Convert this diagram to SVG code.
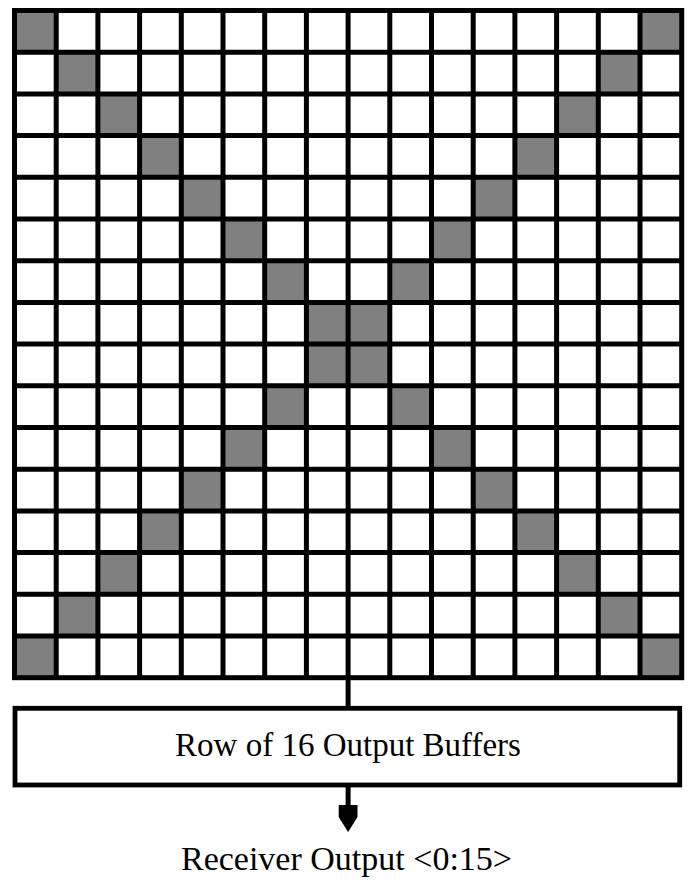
<svg xmlns="http://www.w3.org/2000/svg" width="688" height="882" viewBox="0 0 688 882">
<style>
.g{fill:#808080;stroke:none}
.ln{fill:none;stroke:#000;stroke-width:5}
.box{fill:#fff;stroke:#000;stroke-width:4.8}
.t{font-family:"Liberation Serif","Times New Roman",serif;font-size:33px;fill:#000;text-anchor:middle}
.t2{font-size:34px}
</style>
<defs>
<rect id="c" class="g" width="41.7" height="41.7"/>
</defs>
<rect width="688" height="882" fill="#fff"/>
<g id="grid">
<rect x="14.5" y="10.5" width="667.2" height="667.2" fill="#fff"/>
<use href="#c" x="14.5" y="10.5"/><use href="#c" x="640" y="10.5"/>
<use href="#c" x="56.2" y="52.2"/><use href="#c" x="598.3" y="52.2"/>
<use href="#c" x="97.9" y="93.9"/><use href="#c" x="556.6" y="93.9"/>
<use href="#c" x="139.6" y="135.6"/><use href="#c" x="514.9" y="135.6"/>
<use href="#c" x="181.3" y="177.3"/><use href="#c" x="473.2" y="177.3"/>
<use href="#c" x="223" y="219"/><use href="#c" x="431.5" y="219"/>
<use href="#c" x="264.7" y="260.7"/><use href="#c" x="389.8" y="260.7"/>
<use href="#c" x="306.4" y="302.4"/><use href="#c" x="348.1" y="302.4"/>
<use href="#c" x="306.4" y="344.1"/><use href="#c" x="348.1" y="344.1"/>
<use href="#c" x="264.7" y="385.8"/><use href="#c" x="389.8" y="385.8"/>
<use href="#c" x="223" y="427.5"/><use href="#c" x="431.5" y="427.5"/>
<use href="#c" x="181.3" y="469.2"/><use href="#c" x="473.2" y="469.2"/>
<use href="#c" x="139.6" y="510.9"/><use href="#c" x="514.9" y="510.9"/>
<use href="#c" x="97.9" y="552.6"/><use href="#c" x="556.6" y="552.6"/>
<use href="#c" x="56.2" y="594.3"/><use href="#c" x="598.3" y="594.3"/>
<use href="#c" x="14.5" y="636"/><use href="#c" x="640" y="636"/>
<path class="ln" d="M56.2 10.5V677.7M97.9 10.5V677.7M139.6 10.5V677.7M181.3 10.5V677.7M223 10.5V677.7M264.7 10.5V677.7M306.4 10.5V677.7M348.1 10.5V677.7M389.8 10.5V677.7M431.5 10.5V677.7M473.2 10.5V677.7M514.9 10.5V677.7M556.6 10.5V677.7M598.3 10.5V677.7M640 10.5V677.7
M14.5 52.2H681.7M14.5 93.9H681.7M14.5 135.6H681.7M14.5 177.3H681.7M14.5 219H681.7M14.5 260.7H681.7M14.5 302.4H681.7M14.5 344.1H681.7M14.5 385.8H681.7M14.5 427.5H681.7M14.5 469.2H681.7M14.5 510.9H681.7M14.5 552.6H681.7M14.5 594.3H681.7M14.5 636H681.7"/>
<rect class="ln" x="14.5" y="10.5" width="667.2" height="667.2"/>
</g>
<g id="connectors">
<path class="ln" d="M348.1 677.7V708.3"/>
<path class="ln" d="M348.1 785V806"/>
<polygon points="338.7,805 357.5,805 357.5,817 348.1,832 338.7,817" fill="#000"/>
</g>
<g id="buffers">
<rect class="box" x="15" y="708.3" width="664.7" height="76.7"/>
<text class="t" x="348" y="756">Row of 16 Output Buffers</text>
</g>
<g id="output">
<text class="t t2" x="346.5" y="870">Receiver Output &lt;0:15&gt;</text>
</g>
</svg>
